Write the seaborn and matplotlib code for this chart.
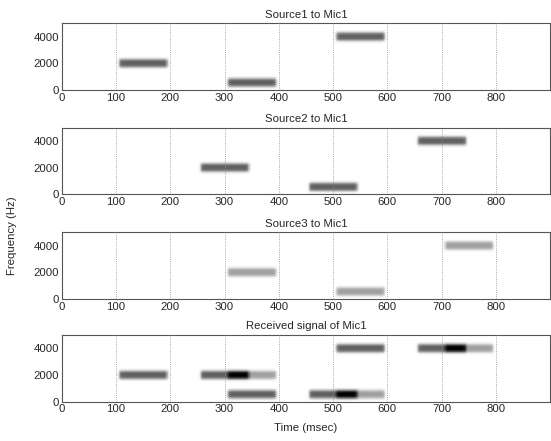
import numpy as np
import pandas as pd
import seaborn as sns
from matplotlib import pyplot as plt

# time / frequency grid of the spectrogram (msec, Hz)
times = np.arange(0, 900, 1)
freqs = np.arange(0, 5000, 20)

# tones of every source: frequency, onset, offset
tone_freqs = [2000, 550, 4000]
src1_on = [106, 306, 506]
src1_off = [194, 394, 594]
src2_on = [256, 456, 656]
src2_off = [344, 544, 744]
src3_on = [306, 506, 706]
src3_off = [394, 594, 794]
src_gain = [1.0, 1.0, 0.6]

titles = ["Source1 to Mic1", "Source2 to Mic1", "Source3 to Mic1", "Received signal of Mic1"]


def spectrogram(onsets, offsets, gain):
    """Smeared energy of three tone bursts on the time/frequency grid."""
    t = times[None, :]
    f = freqs[:, None]
    out = np.zeros((len(freqs), len(times)))
    for f0, on, off in zip(tone_freqs, onsets, offsets):
        env_t = 0.5 * (np.tanh((t - on) / 3.0) - np.tanh((t - off) / 3.0))
        env_f = np.exp(-(np.abs(f - f0) / 330.0) ** 3)
        out += gain * env_t * env_f
    return out


s1 = spectrogram(src1_on, src1_off, src_gain[0])
s2 = spectrogram(src2_on, src2_off, src_gain[1])
s3 = spectrogram(src3_on, src3_off, src_gain[2])
panels = [s1, s2, s3, s1 + s2 + s3]

sns.set_theme(style="white")
plt.rcParams['font.family'] = ['Liberation Sans', 'DejaVu Sans']
fs = 8.2

fig = plt.figure(figsize=(5.51, 4.41), dpi=100)
left, width, height = 0.112, 0.8867, 0.1512
bottoms = [0.7959, 0.5594, 0.3220, 0.0891]
f_step = freqs[1] - freqs[0]

for spec, title, bottom in zip(panels, titles, bottoms):
    ax = fig.add_axes([left, bottom, width, height])
    df = pd.DataFrame(spec, index=freqs, columns=times)
    sns.heatmap(df, ax=ax, cmap="gray_r", vmin=0, vmax=1.6, cbar=False,
                xticklabels=False, yticklabels=False, rasterized=True)
    ax.set_xlim(0, len(times))
    ax.set_ylim(0, len(freqs))
    for x in range(100, 900, 100):
        ax.axvline(x, color='#8a8a8a', ls=':', lw=0.6, zorder=5)
    ax.set_xticks(range(0, 900, 100))
    ax.set_xticklabels([str(v) for v in range(0, 900, 100)], rotation=0)
    ax.set_yticks([0, 2000 / f_step, 4000 / f_step])
    ax.set_yticklabels(["0", "2000", "4000"], rotation=0)
    ax.tick_params(direction='in', top=True, right=True, bottom=True, left=True,
                   length=2.5, width=0.6, color='#555555', labelsize=fs, pad=2)
    for s in ax.spines.values():
        s.set_visible(True)
        s.set_color('#555555')
        s.set_linewidth(0.8)
    ax.set_xlabel("")
    ax.set_ylabel("")
    ax.set_title(title, fontsize=fs, pad=4)

fig.text(0.555, 1 - 428 / 441, "Time (msec)", ha='center', va='center', fontsize=fs)
fig.text(0.022, 1 - 236 / 441, "Frequency (Hz)", ha='center', va='center',
         rotation=90, fontsize=fs)

fig.savefig("out.png", dpi=100)
